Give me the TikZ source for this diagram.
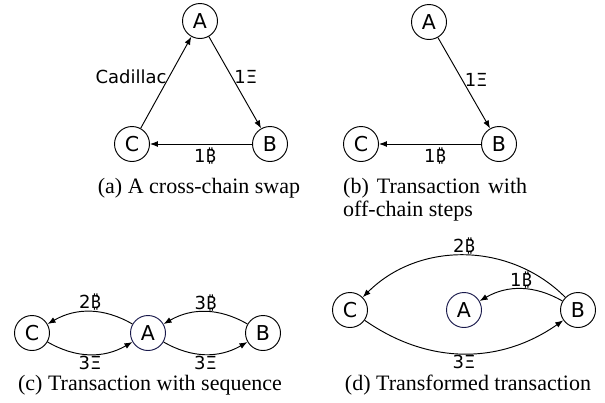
\documentclass[tikz,border=0pt]{standalone}
\usepackage{fontspec}
\setmainfont{Liberation Serif}
\newfontfamily\lblfont{DejaVu Sans}
\newfontfamily\btcfont{Noto Sans}
\newcommand{\btcsign}{{\btcfont ₿}}
\usetikzlibrary{arrows.meta}
\definecolor{navyring}{RGB}{25,25,75}
\begin{document}
\begin{tikzpicture}[x=1pt,y=-1pt,
  st/.style={circle,draw,line width=0.95pt,minimum size=35pt,inner sep=0pt,font=\lblfont\fontsize{20.5}{22}\selectfont},
  lbl/.style={font=\lblfont\fontsize{18}{20}\selectfont,inner sep=2pt},
  arr/.style={-{Latex[length=8pt,width=6pt]},line width=0.95pt},
  captxt/.style={font=\fontsize{22}{22.5}\selectfont,inner sep=0pt,anchor=base}
]
\useasboundingbox (0,0) rectangle (605,402);
% (a)
\node[st] (aA) at (200,21) {A};
\node[st] (aB) at (270,144) {B};
\node[st] (aC) at (132,144) {C};
\draw[arr] (aA) -- node[lbl,pos=0.44,right] {1Ξ} (aB);
\draw[arr] (aB) -- node[lbl,pos=0.46,below,inner sep=3.5pt] {1\btcsign} (aC);
\draw[arr] (aC) -- node[lbl,pos=0.56,left] {Cadillac} (aA);
\node[captxt] (capa) at (199,193) {(a) A cross-chain swap};
% (b)
\node[st] (bA) at (429,22) {A};
\node[st] (bB) at (499,144) {B};
\node[st] (bC) at (361,144) {C};
\draw[arr] (bA) -- node[lbl,pos=0.467,right] {1Ξ} (bB);
\draw[arr] (bB) -- node[lbl,pos=0.45,below,inner sep=3.5pt] {1\btcsign} (bC);
\node[captxt,text width=184pt,align=justify,anchor=north west] (capb) at (343,178.5) {(b) Transaction with off-chain steps};
% (c)
\node[st] (cC) at (32,333) {C};
\node[st,draw=navyring] (cA) at (148,333) {A};
\node[st] (cB) at (263,333) {B};
\draw[arr] (cA) to[bend right=30] node[lbl,above,inner sep=0.5pt] {2\btcsign} (cC);
\draw[arr] (cC) to[bend right=30] node[lbl,below,inner sep=1pt] {3Ξ} (cA);
\draw[arr] (cB) to[bend right=30] node[lbl,above,inner sep=0.5pt] {3\btcsign} (cA);
\draw[arr] (cA) to[bend right=30] node[lbl,below,inner sep=1pt] {3Ξ} (cB);
\node[captxt] (capc) at (150,390) {(c) Transaction with sequence};
% (d)
\node[st] (dC) at (350,310) {C};
\node[st,draw=navyring] (dA) at (464,310) {A};
\node[st] (dB) at (578,310) {B};
\draw[arr] (dB) to[bend right=45] node[lbl,above,inner sep=0.5pt] {2\btcsign} (dC);
\draw[arr] (dB) to[bend right=30] node[lbl,above,inner sep=0.5pt] {1\btcsign} (dA);
\draw[arr] (dC) to[bend right=35] node[lbl,below,inner sep=1pt] {3Ξ} (dB);
\node[captxt] (capd) at (468,390) {(d) Transformed transaction};
\end{tikzpicture}
\end{document}
